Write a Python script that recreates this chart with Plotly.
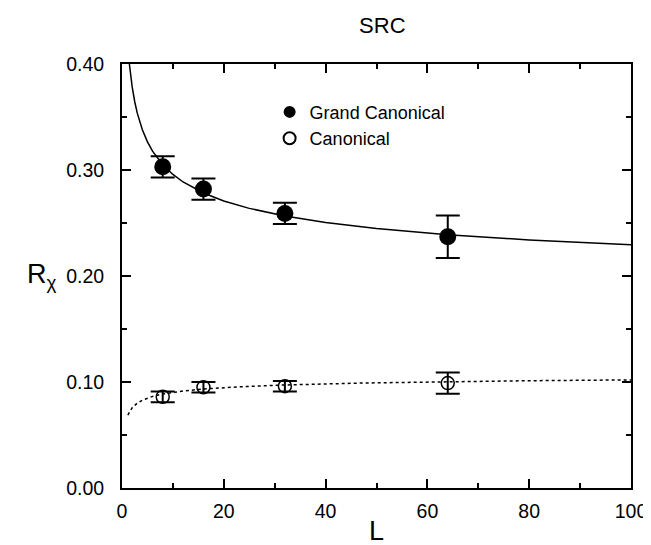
import plotly.graph_objects as go

# Data points
L_pts = [8, 16, 32, 64]
gc_vals = [0.303, 0.282, 0.259, 0.237]
gc_err = [0.010, 0.010, 0.010, 0.020]
c_vals = [0.086, 0.095, 0.096, 0.099]
c_err = [0.005, 0.005, 0.005, 0.010]

# Fit curves
gc_fit_L = [1.45, 1.5, 2, 2.5, 3, 4, 5, 6, 8, 10, 12, 16, 20, 25, 32, 40, 50, 64, 80, 100]
gc_fit_R = [0.400, 0.3978, 0.3784, 0.3644, 0.3536, 0.3379, 0.3265, 0.3178, 0.3050, 0.2958,
            0.2887, 0.2783, 0.2708, 0.2638, 0.2566, 0.2505, 0.2448, 0.2390, 0.2340, 0.2294]
c_fit_L = [1.15, 1.5, 2, 3, 4, 6, 8, 12, 16, 24, 32, 48, 64, 80, 100]
c_fit_R = [0.0688, 0.0723, 0.0757, 0.0801, 0.0829, 0.0864, 0.0887, 0.0915, 0.0934, 0.0957,
           0.0972, 0.0991, 0.1003, 0.1012, 0.1020]

x_ticks = [0, 20, 40, 60, 80, 100]
y_ticks = [0.0, 0.1, 0.2, 0.3, 0.4]
y_tick_text = ["0.00", "0.10", "0.20", "0.30", "0.40"]

FONT = "Liberation Sans, Arial, Helvetica, sans-serif"

fig = go.Figure()

fig.add_trace(go.Scatter(x=gc_fit_L, y=gc_fit_R, mode="lines", line=dict(color="black", width=1.5),
                         showlegend=False, hoverinfo="skip"))
fig.add_trace(go.Scatter(x=c_fit_L, y=c_fit_R, mode="lines", line=dict(color="black", width=1.5, dash="dot"),
                         showlegend=False, hoverinfo="skip"))

fig.add_trace(go.Scatter(x=L_pts, y=gc_vals, mode="markers", name="Grand Canonical",
                         marker=dict(symbol="circle", size=17, color="black"),
                         error_y=dict(type="data", array=gc_err, visible=True, color="black",
                                      thickness=2, width=12)))
fig.add_trace(go.Scatter(x=L_pts, y=c_vals, mode="markers", name="Canonical",
                         marker=dict(symbol="circle-open", size=13, color="black", line=dict(width=1.5)),
                         error_y=dict(type="data", array=c_err, visible=True, color="black",
                                      thickness=2, width=12)))

axis_common = dict(showline=True, linecolor="black", linewidth=2, mirror="allticks",
                   ticks="inside", ticklen=9, tickwidth=2, tickcolor="black",
                   showgrid=False, zeroline=False,
                   tickfont=dict(family=FONT, size=19.5, color="black"))

fig.update_xaxes(range=[0, 100], tickvals=x_ticks, ticklabelstandoff=5,
                 minor=dict(ticks="inside", ticklen=5, tickwidth=2, dtick=10, tickcolor="black"),
                 title=dict(text="L", font=dict(family=FONT, size=27, color="black"), standoff=0),
                 **axis_common)
fig.update_yaxes(range=[0, 0.4], tickvals=y_ticks, ticktext=y_tick_text, ticklabelstandoff=12,
                 minor=dict(ticks="inside", ticklen=5, tickwidth=2, dtick=0.05, tickcolor="black"),
                 **axis_common)

fig.add_annotation(text="R<sub>χ</sub>", xref="paper", yref="paper", x=-0.19, y=0.5,
                   showarrow=False, font=dict(family=FONT, size=27, color="black"),
                   textangle=0)

fig.update_layout(
    width=651, height=545,
    margin=dict(l=114, r=17, t=56, b=56),
    plot_bgcolor="white", paper_bgcolor="white",
    title=dict(text="SRC", x=0.575, xanchor="center", y=0.982, yanchor="top",
               font=dict(family=FONT, size=22, color="black")),
    legend=dict(x=0.29, y=0.93, xanchor="left", yanchor="top", bgcolor="rgba(0,0,0,0)",
                font=dict(family=FONT, size=18, color="black"), tracegroupgap=0,
                itemsizing="constant"),
)

fig.write_html("out.html")
